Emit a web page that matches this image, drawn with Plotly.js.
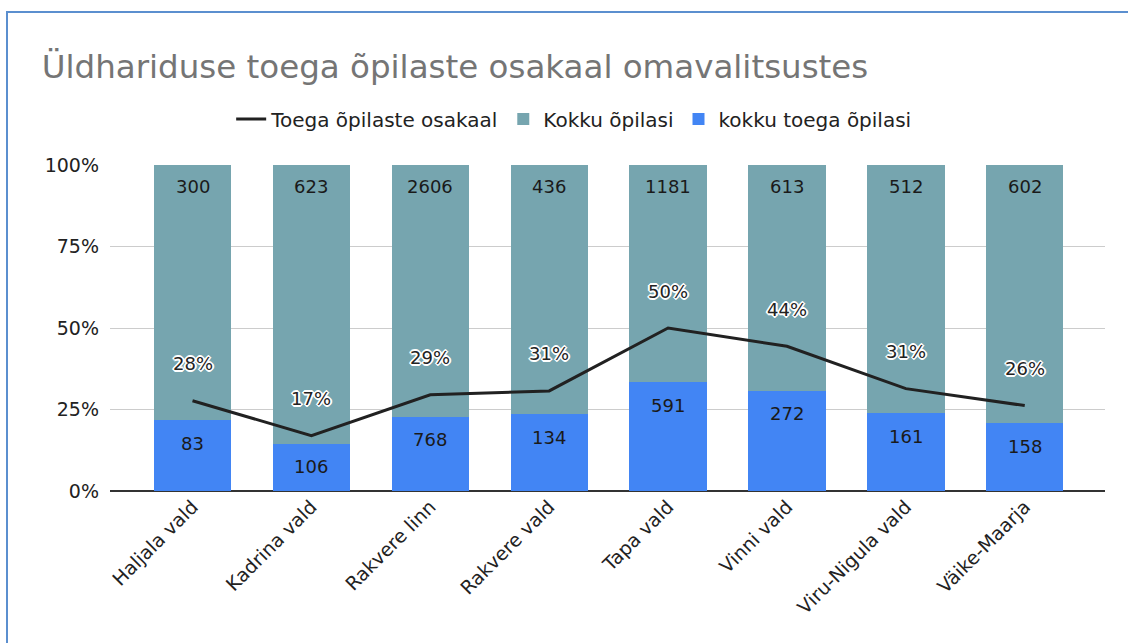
<!DOCTYPE html>
<html>
<head>
<meta charset="utf-8">
<script src="https://cdn.plot.ly/plotly-3.0.1.min.js"></script>
<style>
  html, body { margin: 0; padding: 0; background: #fff; }
  #wrap { position: relative; width: 1128px; height: 643px; overflow: hidden; }
  #chart { width: 1128px; height: 643px; }
  #frame { position: absolute; left: 6px; top: 11px; width: 1130px; height: 700px;
           border-top: 2px solid #5b8fcf; border-left: 2px solid #5b8fcf; pointer-events: none; }
</style>
</head>
<body>
<div id="wrap">
  <div id="chart"></div>
  <div id="frame"></div>
</div>
<script>
const categories = ["Haljala vald", "Kadrina vald", "Rakvere linn", "Rakvere vald", "Tapa vald", "Vinni vald", "Viru-Nigula vald", "Väike-Maarja"];
const kokkuOpilasi = [300, 623, 2606, 436, 1181, 613, 512, 602];
const kokkuToegaOpilasi = [83, 106, 768, 134, 591, 272, 161, 158];
const toegaOsakaal = [27.7, 17.0, 29.5, 30.7, 50.0, 44.4, 31.4, 26.2];
const osakaalLabels = ["28%", "17%", "29%", "31%", "50%", "44%", "31%", "26%"];

const FONT = "DejaVu Sans, Liberation Sans, Arial, sans-serif";

const traces = [
  {
    type: "bar", name: "kokku toega õpilasi", x: categories, y: kokkuToegaOpilasi,
    marker: { color: "#4285f4" }, legendrank: 3, hoverinfo: "skip"
  },
  {
    type: "bar", name: "Kokku õpilasi", x: categories, y: kokkuOpilasi,
    marker: { color: "#76a5af" }, legendrank: 2, hoverinfo: "skip"
  },
  {
    type: "scatter", mode: "lines", name: "Toega õpilaste osakaal", x: categories, y: toegaOsakaal,
    line: { color: "#212121", width: 3 }, legendrank: 1, hoverinfo: "skip"
  }
];

const annotations = [];
categories.forEach((c, i) => {
  annotations.push({ x: c, y: 100, xref: "x", yref: "y", text: String(kokkuOpilasi[i]),
    showarrow: false, yshift: -21, font: { family: FONT, size: 18, color: "#1a1a1a" } });
  const blueTop = 100 * kokkuToegaOpilasi[i] / (kokkuToegaOpilasi[i] + kokkuOpilasi[i]);
  annotations.push({ x: c, y: blueTop, xref: "x", yref: "y", text: String(kokkuToegaOpilasi[i]),
    showarrow: false, yshift: -23, font: { family: FONT, size: 18, color: "#1a1a1a" } });
  annotations.push({ x: c, y: toegaOsakaal[i], xref: "x", yref: "y", text: osakaalLabels[i],
    showarrow: false, yshift: 37,
    font: { family: FONT, size: 18, color: "#222",
      shadow: "1px 1px 0 #fff, -1px -1px 0 #fff, 1px -1px 0 #fff, -1px 1px 0 #fff, 2px 0 0 #fff, -2px 0 0 #fff, 0 2px 0 #fff, 0 -2px 0 #fff, 0 0 2px #888" } });
});

const layout = {
  width: 1128, height: 643,
  margin: { l: 110, r: 23, t: 165, b: 152 },
  paper_bgcolor: "#fff", plot_bgcolor: "#fff",
  barmode: "stack", barnorm: "percent", bargap: 0.35,
  font: { family: FONT, size: 19, color: "#222" },
  title: {
    text: "Üldhariduse toega õpilaste osakaal omavalitsustes",
    font: { family: FONT, size: 32.5, color: "#757575" },
    xref: "container", yref: "container", x: 0.037, xanchor: "left", y: 0.897, yanchor: "middle"
  },
  showlegend: true,
  legend: {
    orientation: "h", x: 0.466, xanchor: "center", y: 1.141, yanchor: "middle",
    traceorder: "normal", font: { family: FONT, size: 20, color: "#222" },
    itemwidth: 30, bgcolor: "rgba(0,0,0,0)"
  },
  xaxis: {
    type: "category", range: [-0.694, 7.675], tickangle: -45,
    showgrid: false, showline: false, zeroline: false, ticks: "",
    tickfont: { family: FONT, size: 19, color: "#222" }, fixedrange: true
  },
  yaxis: {
    range: [0, 100], tickvals: [0, 25, 50, 75, 100], ticktext: ["0%", "25%", "50%", "75%", "100%"],
    showgrid: true, gridcolor: "#cccccc", gridwidth: 1,
    zeroline: true, zerolinecolor: "#333", zerolinewidth: 2,
    showline: false, ticks: "", ticklabelstandoff: 10,
    tickfont: { family: FONT, size: 19, color: "#222" }, fixedrange: true
  },
  annotations: annotations
};

Plotly.newPlot("chart", traces, layout, { displayModeBar: false, staticPlot: true });
</script>
</body>
</html>
